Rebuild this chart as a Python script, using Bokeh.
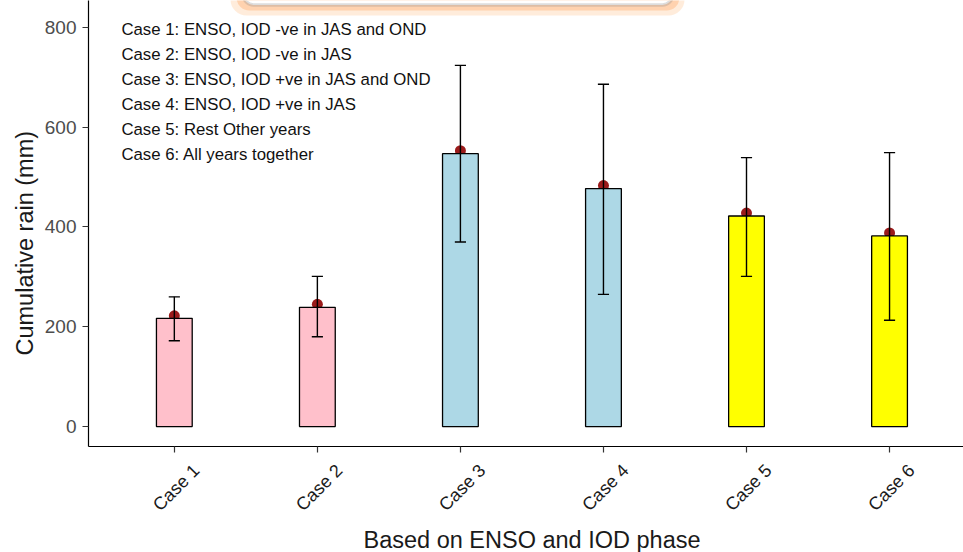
import math
from bokeh.plotting import figure
from bokeh.models import (ColumnDataSource, Range1d, FixedTicker, LinearAxis, Title,
                          BoxAnnotation)
from bokeh.core.properties import value
from bokeh.embed import file_html
from bokeh.resources import INLINE

# ---- data ----
cases = ["Case 1", "Case 2", "Case 3", "Case 4", "Case 5", "Case 6"]
bar_values = [217, 239, 547, 477, 422, 382]
mean_values = [222, 245, 553, 483, 428, 388]
err_low = [172, 180, 370, 265, 301, 213]
err_high = [260, 301, 724, 686, 539, 549]
bar_colors = ["pink", "pink", "lightblue", "lightblue", "yellow", "yellow"]
case_notes = [
    "Case 1: ENSO, IOD -ve in JAS and OND",
    "Case 2: ENSO, IOD -ve in JAS",
    "Case 3: ENSO, IOD +ve in JAS and OND",
    "Case 4: ENSO, IOD +ve in JAS",
    "Case 5: Rest Other years",
    "Case 6: All years together",
]
y_ticks = [0, 200, 400, 600, 800]

FONT = "Liberation Sans"
xpos = list(range(1, len(cases) + 1))
cap = 0.039

src = ColumnDataSource(dict(
    x=xpos, top=bar_values, mean=mean_values, lo=err_low, hi=err_high,
    color=bar_colors,
    cl=[v - cap for v in xpos], cr=[v + cap for v in xpos],
))

X0, X1 = 0.4, 6.517
p = figure(width=963, height=552, output_backend="svg", toolbar_location=None,
           x_range=Range1d(X0, X1), y_range=Range1d(-40, 854),
           min_border_left=88, min_border_right=0, min_border_top=0,
           min_border_bottom=106, outline_line_color=None,
           background_fill_color="white", border_fill_color="white")
p.grid.visible = False

# mean points (partly hidden under bars)
p.scatter("x", "mean", source=src, size=11, color="#9B1B1B", line_color=None)
# bars
p.vbar(x="x", top="top", bottom=0, width=0.25, source=src, fill_color="color",
       line_color="black", line_width=1.3)
# error bars
p.segment(x0="x", y0="lo", x1="x", y1="hi", source=src, line_color="black", line_width=1.4)
p.segment(x0="cl", y0="hi", x1="cr", y1="hi", source=src, line_color="black", line_width=1.4)
p.segment(x0="cl", y0="lo", x1="cr", y1="lo", source=src, line_color="black", line_width=1.4)

# case notes
note_x = 0.63
note_y = [795 - 50 * i for i in range(len(case_notes))]
p.text(x=[note_x] * len(case_notes), y=note_y, text=case_notes,
       text_font=value(FONT), text_font_size="16.8px", text_color="#111111",
       text_baseline="middle", text_align="left")

# y axis
ya = p.yaxis[0]
ya.ticker = FixedTicker(ticks=y_ticks)
ya.axis_line_color = "black"
ya.axis_line_width = 1.2
ya.major_tick_line_color = "#333333"
ya.major_tick_line_width = 1.2
ya.major_tick_out = 6
ya.major_tick_in = 0
ya.minor_tick_line_color = None
ya.major_label_standoff = 6
ya.major_label_text_font = FONT
ya.major_label_text_font_size = "19px"
ya.major_label_text_color = "#4D4D4D"

# x axis: line and ticks
xa = p.xaxis[0]
xa.ticker = FixedTicker(ticks=xpos)
xa.axis_line_color = "black"
xa.axis_line_width = 1.2
xa.major_tick_line_color = "#333333"
xa.major_tick_line_width = 1.2
xa.major_tick_out = 6
xa.major_tick_in = 0
xa.minor_tick_line_color = None
xa.major_label_text_font_size = "1px"
xa.major_label_text_color = None
xa.major_label_standoff = 0

# x axis: rotated tick labels (shifted to sit centred under each tick)
shift = 0.154
p.extra_x_ranges = {"lab": Range1d(X0 - shift, X1 - shift)}
la = LinearAxis(x_range_name="lab", ticker=FixedTicker(ticks=xpos),
                major_label_overrides={v: c for v, c in zip(xpos, cases)},
                major_label_orientation=math.pi / 4,
                axis_line_color=None, major_tick_line_color=None,
                minor_tick_line_color=None, major_tick_out=0, major_tick_in=0,
                major_label_standoff=15, major_label_text_font=FONT,
                major_label_text_font_size="18px", major_label_text_color="#1a1a1a")
p.add_layout(la, "below")

# axis titles
p.add_layout(Title(text="Based on ENSO and IOD phase", align="left", offset=275,
                   text_font=FONT, text_font_size="23.5px", text_font_style="normal",
                   text_color="#1a1a1a", standoff=0), "below")
p.add_layout(Title(text="Cumulative rain (mm)", align="left", offset=91,
                   text_font=FONT, text_font_size="23.5px", text_font_style="normal",
                   text_color="#1a1a1a", standoff=8), "left")

# top rounded box (screen artefact in the reference)
box_kw = dict(left_units="canvas", right_units="canvas",
              top_units="canvas", bottom_units="canvas")
p.add_layout(BoxAnnotation(left=230, right=684, top=-20, bottom=15,
                           fill_color="#FFD9B8", fill_alpha=0.5, line_color=None,
                           border_radius=16, **box_kw))
p.add_layout(BoxAnnotation(left=236, right=679, top=-20, bottom=10,
                           fill_color="#FFC191", fill_alpha=0.6, line_color=None,
                           border_radius=13, **box_kw))
p.add_layout(BoxAnnotation(left=243, right=672, top=-20, bottom=4.5,
                           fill_color="white", fill_alpha=1.0, line_color="#8E8E8E",
                           line_width=3.5, border_radius=10, **box_kw))

open("out.html", "w").write(file_html(p, INLINE))
